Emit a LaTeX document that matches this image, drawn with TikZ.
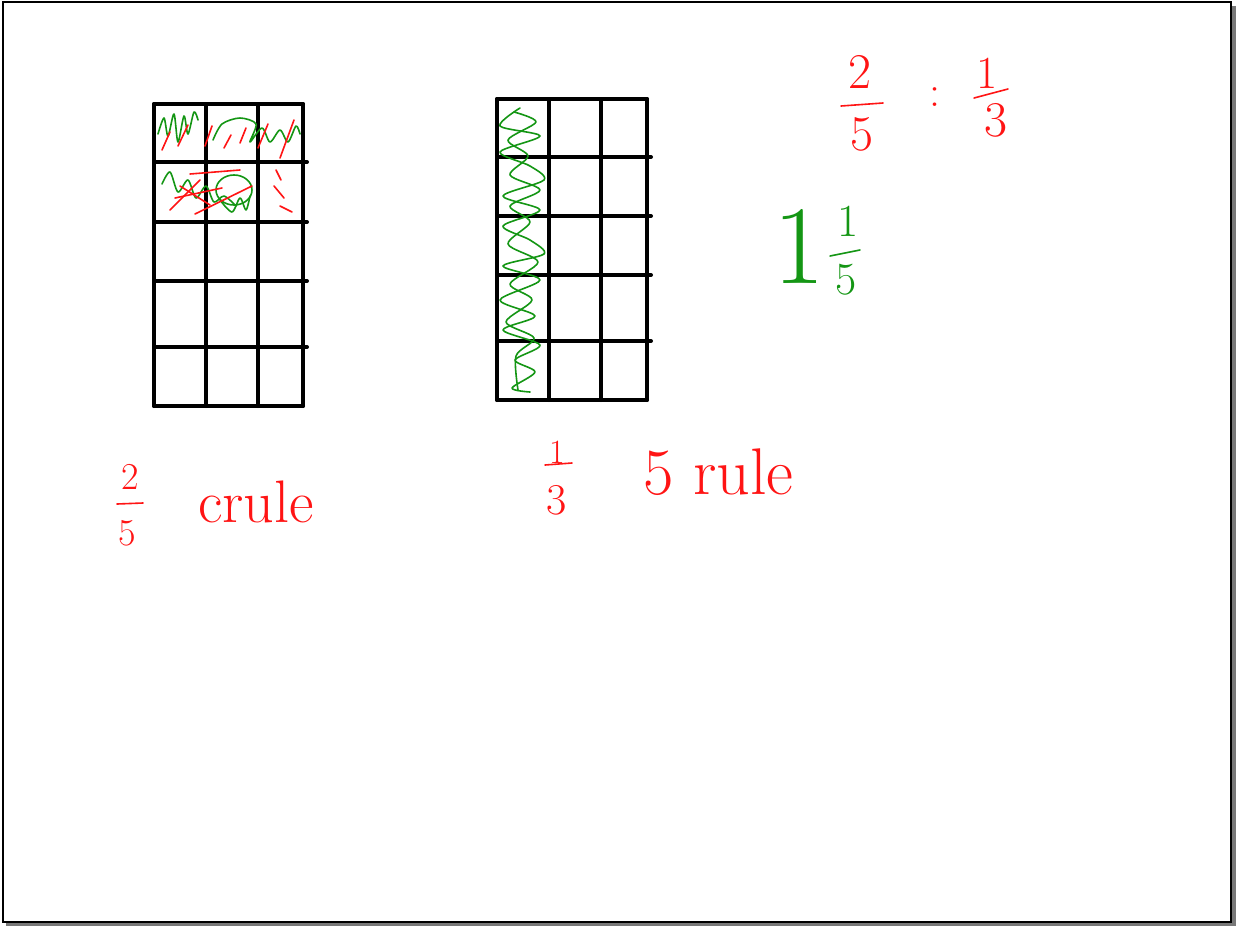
\documentclass[tikz,border=0pt]{standalone}
\usepackage{tikz}
\usetikzlibrary{positioning,calc}
\definecolor{penred}{RGB}{255,20,20}
\definecolor{pengreen}{RGB}{20,150,20}
\definecolor{shadowgray}{RGB}{120,120,120}
\tikzset{
  gridline/.style={line width=4pt,line cap=round},
  redpen/.style={draw=penred,line width=1.6pt,line cap=round,line join=round},
  greenpen/.style={draw=pengreen,line width=1.6pt,line cap=round,line join=round},
  redtext/.style={text=penred,inner sep=0pt},
  greentext/.style={text=pengreen,inner sep=0pt}
}
\newcommand{\fsz}[1]{\fontsize{#1}{#1}\selectfont}

\begin{document}
\begin{tikzpicture}[x=1pt,y=-1pt]
  % page and shadow
  \useasboundingbox (0,0) rectangle (1236,926);
  \fill[shadowgray] (6,6) rectangle (1236,926);
  \filldraw[fill=white,draw=black,line width=2pt] (3,2) rectangle (1231,922);

  % left grid: 3 x 5
  \foreach \x in {154,206,258,303} \draw[gridline] (\x,104) -- (\x,406);
  \foreach \y in {104,406} \draw[gridline] (154,\y) -- (303,\y);
  \foreach \y in {162,222,281,347} \draw[gridline] (154,\y) -- (307,\y);

  % right grid: 3 x 5
  \foreach \x in {497,549,601,647} \draw[gridline] (\x,99) -- (\x,400);
  \foreach \y in {99,400} \draw[gridline] (497,\y) -- (647,\y);
  \foreach \y in {157,216,275,341} \draw[gridline] (497,\y) -- (651,\y);

  % shading, left grid, first row
  \draw[greenpen] plot[smooth] coordinates {(158,134) (164,118) (168,136) (174,114) (178,142) (184,116) (188,134) (194,112) (198,120)};
  \draw[greenpen] plot[smooth] coordinates {(213,140) (222,124) (240,118) (256,124) (250,142) (262,128) (270,142) (280,130) (288,142) (296,126) (300,134)};
  \foreach \a/\b/\c/\d in {162/150/170/132, 178/146/188/125, 205/146/212/126, 224/148/231/135, 240/143/246/128, 258/148/268/124, 280/158/294/120}
    \draw[redpen] (\a,\b) -- (\c,\d);
  % shading, left grid, second row
  \draw[greenpen] plot[smooth] coordinates {(162,184) (170,172) (178,192) (188,180) (196,198) (206,186) (214,202) (224,196) (236,206)};
  \draw[greenpen] (234,190) circle[x radius=18pt,y radius=15pt];
  \draw[greenpen] plot[smooth] coordinates {(220,200) (232,212) (240,198) (246,210) (250,196)};
  \foreach \a/\b/\c/\d in {170/210/200/180, 175/198/222/188, 195/214/252/186, 190/174/240/170, 180/186/210/205, 276/170/281/180, 274/186/284/198, 280/206/292/212}
    \draw[redpen] (\a,\b) -- (\c,\d);

  % shading, right grid, first column
  \draw[greenpen] plot[smooth] coordinates {(520,108) (500,126) (540,136) (500,152) (530,166) (544,180) (503,196) (540,210) (503,226) (530,240) (544,254) (503,266) (540,280) (500,300) (535,316) (503,330) (540,345) (515,360) (535,372) (512,388) (530,392)};
  \draw[greenpen] plot[smooth] coordinates {(514,112) (536,122) (508,140) (528,156) (510,175) (540,190) (510,206) (530,222) (508,244) (538,262) (510,284) (532,300) (506,322) (534,338) (516,356) (518,390)};

  % 2/5 : 1/3
  \node[redtext,font=\fsz{50}] (ratioAnum) at (860,72) {2};
  \node[redtext,font=\fsz{50}] (ratioAden) at (862,134) {5};
  \draw[redpen] (841,106) -- (883,103);
  \node[redtext,font=\fsz{44}] (ratiocolon) at (935,97) {:};
  \node[redtext,font=\fsz{46}] (ratioBnum) at (987,73) {1};
  \node[redtext,font=\fsz{50}] (ratioBden) at (996,120) {3};
  \draw[redpen] (974,98) -- (1008,89);

  % 1 1/5
  \node[greentext,font=\fsz{112}] (mixwhole) at (799,246) {1};
  \node[greentext,font=\fsz{46}] (mixnum) at (848,221) {1};
  \node[greentext,font=\fsz{46}] (mixden) at (846,280) {5};
  \draw[greenpen] (830,256) -- (860,250);

  % 2/5 crule
  \node[redtext,font=\fsz{38}] (leftnum) at (130,477) {2};
  \node[redtext,font=\fsz{38}] (leftden) at (127,533) {5};
  \draw[redpen] (117,504) -- (143,503);
  \node[redtext,font=\fsz{60},anchor=base west] (leftword) at (198,522) {crule};

  % 1/3 5 rule
  \node[redtext,font=\fsz{34}] (midnum) at (557,452) {1};
  \node[redtext,font=\fsz{44}] (midden) at (557,500) {3};
  \draw[redpen] (545,465) -- (572,463);
  \node[redtext,font=\fsz{66},anchor=base west] (midword) at (643,494) {5\hspace{0.3em}rule};
\end{tikzpicture}
\end{document}
